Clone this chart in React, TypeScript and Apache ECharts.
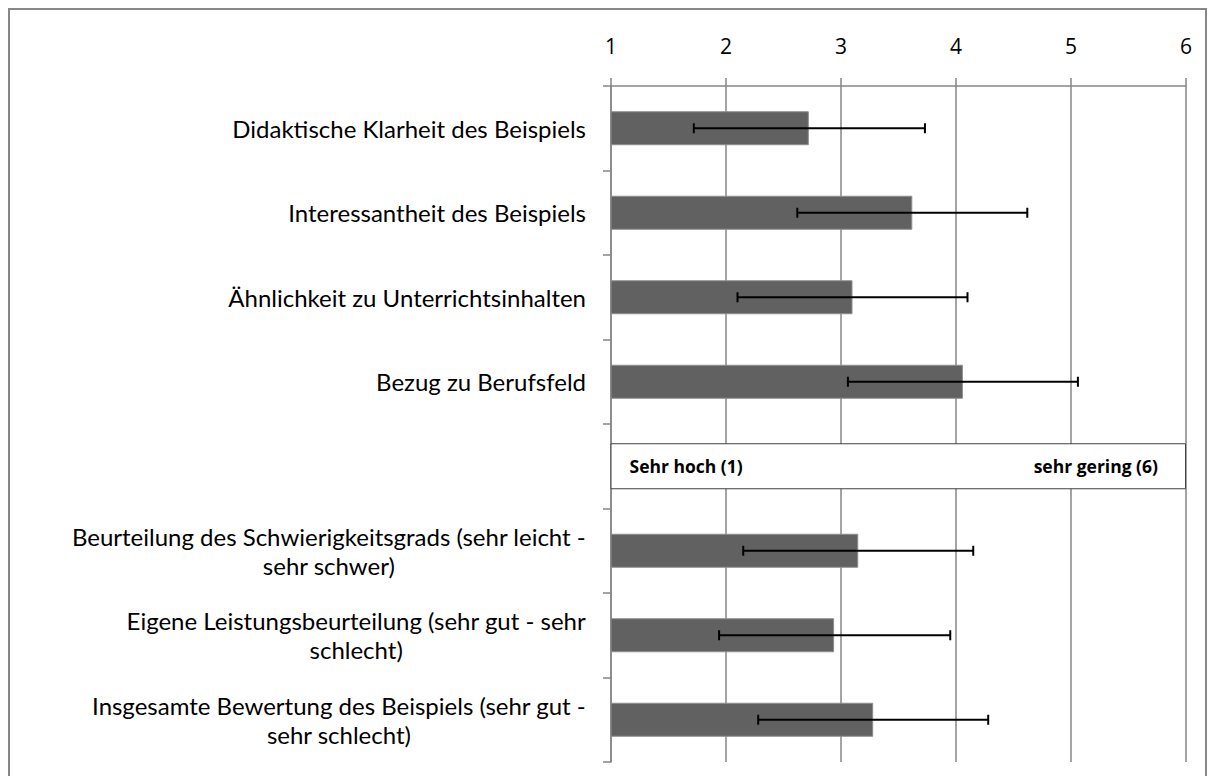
import React, { useEffect, useRef } from "react";
import * as echarts from "echarts";

const categories: string[] = [
  "Didaktische Klarheit des Beispiels",
  "Interessantheit des Beispiels",
  "Ähnlichkeit zu Unterrichtsinhalten",
  "Bezug zu Berufsfeld",
  "",
  "Beurteilung des Schwierigkeitsgrads (sehr leicht -\nsehr schwer)",
  "Eigene Leistungsbeurteilung (sehr gut - sehr\nschlecht)",
  "Insgesamte Bewertung des Beispiels (sehr gut -\nsehr schlecht)",
];

const means: (number | null)[] = [2.72, 3.62, 3.1, 4.06, null, 3.15, 2.94, 3.28];
const errLow: (number | null)[] = [1.72, 2.62, 2.1, 3.06, null, 2.15, 1.94, 2.28];
const errHigh: (number | null)[] = [3.73, 4.62, 4.1, 5.06, null, 4.15, 3.95, 4.28];

const scaleTicks: number[] = [1, 2, 3, 4, 5, 6];
const boxRowIndex = 4;
const boxLeftText = "Sehr hoch (1)";
const boxRightText = "sehr gering (6)";

const FONT = "Open Sans";
const LABEL_FONT = "Lato";

export default function App() {
  const ref = useRef<HTMLDivElement>(null);

  useEffect(() => {
    if (!ref.current) return;
    const chart = echarts.init(ref.current, undefined, { renderer: "svg" });
    const scaleMin = scaleTicks[0];
    const scaleMax = scaleTicks[scaleTicks.length - 1];

    const barData = means.map((v) => (v == null ? "-" : v));
    const errData = categories
      .map((_, i) =>
        errLow[i] == null ? null : [errLow[i], i, errHigh[i]]
      )
      .filter((d) => d != null);
    const boxData = categories.map((_, i) => (i === boxRowIndex ? scaleMax : "-"));

    const labelFmt = (v: string) =>
      v ? v.split("\n").map((l) => `{c|${l}}`).join("\n") : "";

    chart.setOption({
      animation: false,
      backgroundColor: "#ffffff",
      grid: { left: 601, top: 76, right: 19, bottom: 14, containLabel: false },
      xAxis: {
        type: "value",
        position: "top",
        min: scaleMin,
        max: scaleMax,
        interval: 1,
        axisLine: { show: true, lineStyle: { color: "#868686", width: 1.5 } },
        axisTick: { show: true, length: 8, lineStyle: { color: "#868686", width: 1.5 } },
        splitLine: { show: true, lineStyle: { color: "#868686", width: 1.5 } },
        axisLabel: {
          color: "#000",
          fontSize: 21,
          fontFamily: FONT,
          margin: 30,
        },
      },
      yAxis: [
        {
          type: "category",
          data: categories,
          inverse: true,
          axisLine: { show: true, lineStyle: { color: "#868686", width: 1.5 } },
          axisTick: { show: true, length: 8, lineStyle: { color: "#868686", width: 1.5 } },
          axisLabel: {
            margin: 25,
            align: "right",
            formatter: labelFmt,
            rich: {
              c: {
                align: "center",
                fontSize: 24,
                fontFamily: LABEL_FONT,
                color: "#000",
                lineHeight: 29,
              },
            },
          },
        },
        {
          type: "category",
          data: categories,
          inverse: true,
          show: false,
        },
      ],
      series: [
        {
          type: "bar",
          yAxisIndex: 0,
          data: barData,
          barWidth: 34,
          itemStyle: { color: "#616161", borderColor: "#8e8e8e", borderWidth: 1 },
          z: 2,
        },
        {
          type: "custom",
          yAxisIndex: 0,
          data: errData,
          encode: { x: [0, 2], y: 1 },
          z: 5,
          renderItem: (params: any, api: any) => {
            const y = api.value(1);
            const p1 = api.coord([api.value(0), y]);
            const p2 = api.coord([api.value(2), y]);
            const capH = 5;
            const style = { stroke: "#000", lineWidth: 2 };
            return {
              type: "group",
              children: [
                { type: "line", shape: { x1: p1[0], y1: p1[1], x2: p2[0], y2: p2[1] }, style },
                { type: "line", shape: { x1: p1[0], y1: p1[1] - capH, x2: p1[0], y2: p1[1] + capH }, style },
                { type: "line", shape: { x1: p2[0], y1: p2[1] - capH, x2: p2[0], y2: p2[1] + capH }, style },
              ],
            };
          },
        },
        {
          type: "bar",
          yAxisIndex: 1,
          data: boxData,
          barWidth: 46,
          barGap: "-100%",
          z: 6,
          itemStyle: { color: "#ffffff", borderColor: "#404040", borderWidth: 1 },
          label: {
            show: true,
            position: "insideLeft",
            distance: 19,
            formatter: boxLeftText,
            color: "#000",
            fontWeight: "bold",
            fontSize: 17.5,
            fontFamily: FONT,
          },
        },
        {
          type: "bar",
          yAxisIndex: 1,
          data: boxData,
          barWidth: 46,
          barGap: "-100%",
          z: 7,
          itemStyle: { color: "rgba(0,0,0,0)", borderWidth: 0 },
          label: {
            show: true,
            position: "insideRight",
            distance: 28,
            formatter: boxRightText,
            color: "#000",
            fontWeight: "bold",
            fontSize: 17.5,
            fontFamily: FONT,
          },
        },
      ],
    });

    return () => chart.dispose();
  }, []);

  return (
    <div
      style={{
        width: 1199,
        height: 768,
        boxSizing: "border-box",
        borderTop: "2px solid #878787",
        borderLeft: "2px solid #878787",
        borderRight: "2px solid #878787",
      }}
    >
      <div ref={ref} style={{ width: 1195, height: 766 }} />
    </div>
  );
}
